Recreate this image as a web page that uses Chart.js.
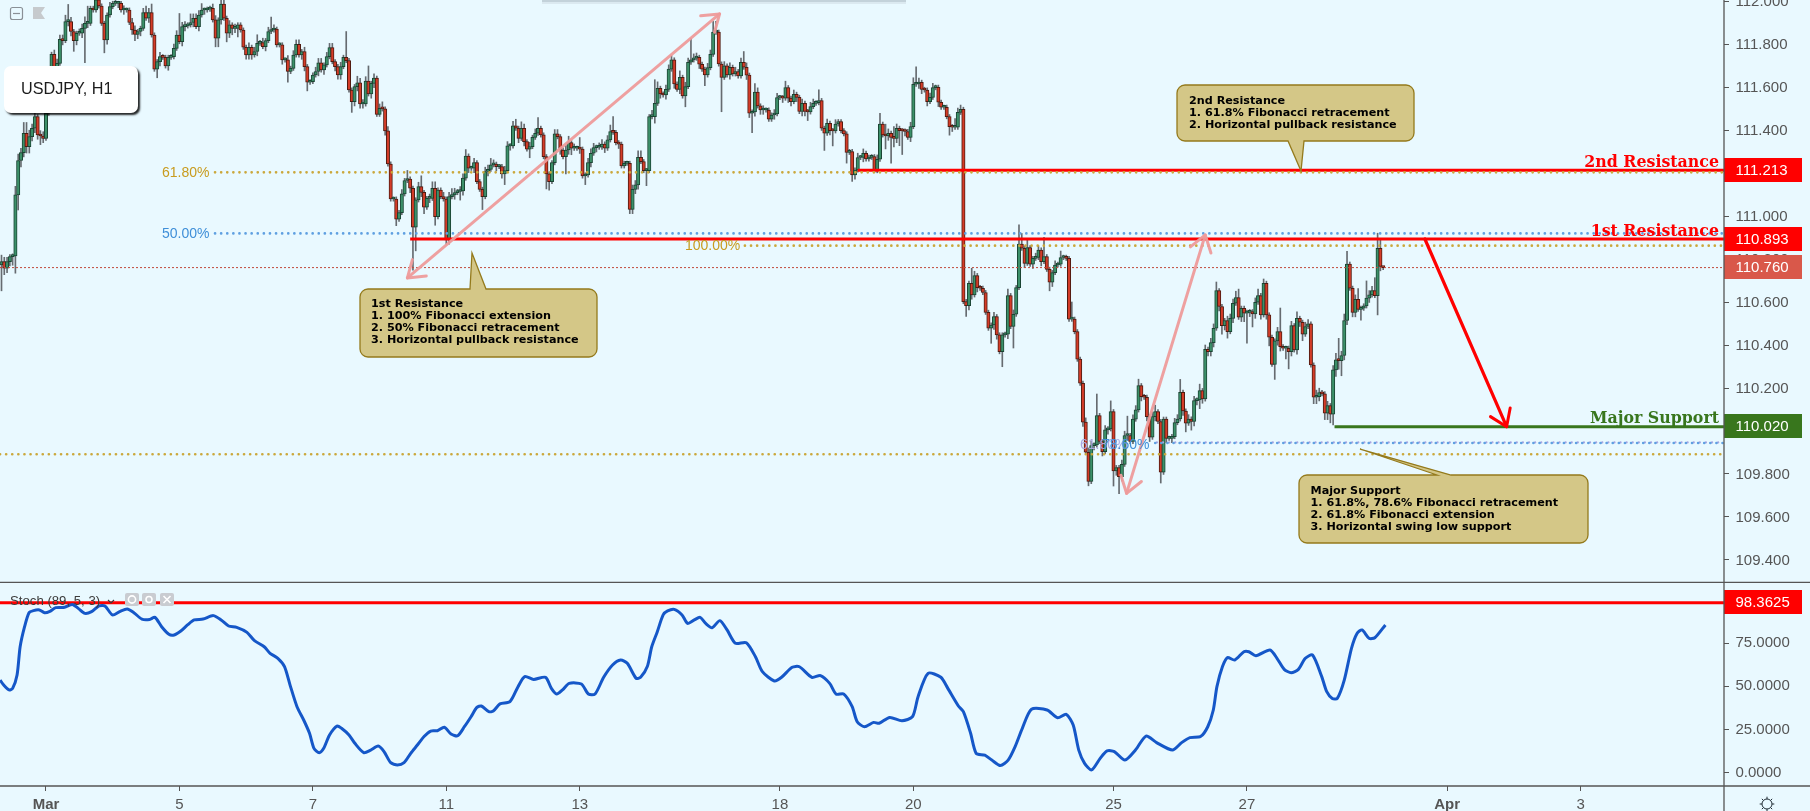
<!DOCTYPE html>
<html>
<head>
<meta charset="utf-8">
<title>USDJPY, H1</title>
<script src="https://cdn.jsdelivr.net/npm/chart.js@4"></script>
<style>
  html, body { margin: 0; padding: 0; background: #e9f9ff; overflow: hidden; }
  canvas { position: absolute; left: 0; }
  #priceChart { top: 0; }
  #stochChart { top: 583px; }
</style>
</head>
<body>
<canvas id="priceChart" width="1810" height="583"></canvas>
<canvas id="stochChart" width="1810" height="228"></canvas>
<script>
// Hourly closes. Each bar opens at the previous close.
const firstOpen = 110.772;
const closes = [
  110.788,110.757,110.788,110.811,110.814,111.098,111.258,111.295,111.385,111.323,
  111.369,111.408,111.462,111.377,111.372,111.361,111.478,111.617,111.752,111.648,
  111.710,111.822,111.816,111.904,111.904,111.858,111.816,111.850,111.850,111.873,
  111.896,111.896,111.966,111.958,112.005,111.977,111.896,111.819,111.935,111.974,
  111.989,111.989,111.989,111.958,111.958,111.958,111.900,111.865,111.845,111.858,
  111.873,111.946,111.920,111.946,111.842,111.683,111.718,111.741,111.738,111.698,
  111.738,111.741,111.780,111.842,111.811,111.881,111.884,111.889,111.900,111.920,
  111.881,111.935,111.958,111.958,111.962,111.966,111.912,111.827,111.912,111.986,
  111.920,111.850,111.889,111.873,111.873,111.889,111.865,111.785,111.749,111.785,
  111.749,111.765,111.803,111.807,111.788,111.816,111.858,111.865,111.869,111.796,
  111.796,111.726,111.726,111.672,111.687,111.749,111.799,111.749,111.765,111.695,
  111.622,111.625,111.656,111.672,111.713,111.679,111.703,111.741,111.783,111.718,
  111.695,111.656,111.695,111.738,111.723,111.586,111.532,111.602,111.620,111.521,
  111.521,111.628,111.568,111.617,111.641,111.473,111.501,111.498,111.396,111.242,
  111.079,111.079,110.985,111.016,111.103,111.165,111.172,111.129,110.948,111.075,
  111.137,111.110,111.041,111.082,111.082,111.129,110.997,111.121,111.090,111.079,
  110.889,111.090,111.098,111.109,111.114,111.117,111.176,111.279,111.222,111.222,
  111.248,111.160,111.124,111.090,111.207,111.217,111.238,111.241,111.230,111.230,
  111.196,111.211,111.326,111.326,111.420,111.408,111.361,111.408,111.346,111.311,
  111.323,111.366,111.385,111.408,111.377,111.276,111.196,111.160,111.248,111.382,
  111.369,111.307,111.276,111.307,111.341,111.315,111.315,111.315,111.311,111.186,
  111.191,111.248,111.292,111.318,111.320,111.320,111.335,111.315,111.354,111.393,
  111.389,111.341,111.334,111.233,111.245,111.245,111.031,111.124,111.145,111.273,
  111.253,111.211,111.211,111.462,111.462,111.524,111.594,111.568,111.563,111.589,
  111.683,111.726,111.614,111.589,111.645,111.558,111.602,111.715,111.726,111.734,
  111.738,111.706,111.683,111.656,111.690,111.752,111.855,111.855,111.707,111.645,
  111.698,111.656,111.692,111.661,111.672,111.651,111.715,111.692,111.655,111.478,
  111.484,111.576,111.512,111.493,111.493,111.493,111.450,111.470,111.475,111.551,
  111.551,111.548,111.597,111.548,111.532,111.566,111.552,111.486,111.524,111.486,
  111.484,111.509,111.524,111.527,111.537,111.408,111.385,111.431,111.397,111.396,
  111.428,111.439,111.397,111.382,111.296,111.300,111.191,111.214,111.272,111.272,
  111.292,111.265,111.273,111.276,111.211,111.264,111.427,111.377,111.372,111.385,
  111.366,111.361,111.408,111.397,111.396,111.393,111.366,111.416,111.613,111.614,
  111.622,111.589,111.586,111.532,111.552,111.597,111.599,111.529,111.506,111.506,
  111.462,111.416,111.413,111.413,111.482,111.496,110.602,110.583,110.687,110.633,
  110.723,110.667,110.664,110.644,110.552,110.478,110.493,110.532,110.447,110.369,
  110.447,110.450,110.630,110.486,110.543,110.667,110.869,110.850,110.780,110.853,
  110.776,110.803,110.807,110.842,110.788,110.811,110.752,110.692,110.737,110.772,
  110.776,110.807,110.808,110.803,110.520,110.520,110.462,110.334,110.222,110.041,
  109.901,109.765,109.932,109.935,110.072,109.951,109.904,110.005,110.010,110.090,
  109.814,109.830,109.788,109.845,109.979,109.979,109.951,110.055,110.098,110.211,
  110.160,110.157,110.067,109.971,110.067,110.090,110.044,109.808,110.055,109.966,
  109.966,109.974,110.039,110.056,110.180,110.093,110.036,110.056,110.044,110.141,
  110.144,110.188,110.149,110.380,110.369,110.411,110.478,110.653,110.579,110.490,
  110.514,110.462,110.524,110.594,110.620,110.529,110.571,110.548,110.552,110.555,
  110.544,110.599,110.630,110.540,110.687,110.540,110.436,110.310,110.419,110.462,
  110.392,110.385,110.385,110.369,110.490,110.377,110.524,110.506,110.450,110.486,
  110.498,110.307,110.157,110.160,110.179,110.173,110.083,110.118,110.078,110.284,
  110.331,110.327,110.351,110.514,110.776,110.664,110.551,110.613,110.566,110.571,
  110.582,110.618,110.633,110.653,110.630,110.850,110.765,110.760
];

// Wick lengths in pips above and below each body
const upperWicks = [
  3,2,2,1,1,4,3,2,5,5, 3,2,3,1,2,2,1,1,1,2, 2,2,2,3,8,2,1,1,2,2, 3,8,1,1,2,1,1,1,1,2,
  1,2,1,1,2,1,1,2,2,1, 1,2,3,2,4,1,1,2,1,1, 1,1,2,2,10,2,2,1,4,2, 2,2,3,1,1,1,2,2,1,3,
  2,1,2,1,2,1,1,1,1,2, 1,2,4,1,2,1,2,6,2,1, 1,1,1,2,1,2,2,2,1,2, 1,1,1,2,2,2,1,2,2,2,
  1,1,2,1,12,1,1,1,3,2, 2,2,7,1,2,1,2,3,1,2, 1,1,1,1,2,1,4,1,1,1, 2,5,1,1,2,3,3,1,1,2,
  1,2,3,2,1,2,2,3,1,1, 2,1,1,1,2,2,3,2,1,1, 1,2,2,1,2,3,1,3,2,1, 2,1,2,5,1,1,1,1,1,2,
  2,1,1,2,3,1,2,1,5,1, 1,2,2,2,1,2,2,1,2,3, 7,1,1,1,1,1,1,2,2,3, 3,1,1,1,3,11,3,1,1,2,
  2,2,1,1,3,1,2,2,10,2, 2,1,1,1,2,2,5,5,1,1, 2,1,2,1,2,1,2,5,2,1, 1,4,2,1,2,1,1,1,2,2,
  1,1,3,1,1,2,1,1,2,1, 1,2,2,1,5,1,1,2,1,1, 2,1,1,1,1,1,1,1,2,1, 2,1,1,1,1,2,5,1,5,2,
  1,5,2,1,1,1,1,2,3,8, 2,1,1,1,2,2,1,1,1,1, 1,1,1,4,2,2,1,1,1,7, 2,1,1,1,1,1,1,2,1,1,
  1,1,3,1,2,1,9,5,1,4, 1,1,2,2,1,9,1,1,1,2, 1,3,1,1,1,8,1,1,1,1, 2,2,2,1,10,1,1,2,1,5,
  1,1,1,2,2,9,1,2,2,3, 1,1,1,1,2,3,1,1,1,1, 1,1,2,2,6,1,1,2,1,2, 1,3,1,2,1,2,2,4,1,1,
  1,2,2,2,3,4,1,1,1,1, 1,2,3,1,2,1,1,1,1,2, 11,1,1,1,2,1,3,1,1,2, 2,1,1,3,2,1,1,2,1,2,
  3,10,2,3,6,1,1,2,5,1, 1,8,2,2,6,7,4,0
];
const lowerWicks = [
  12,3,2,2,4,8,7,3,2,3, 3,2,2,2,4,2,1,1,1,1, 1,1,2,1,2,2,5,2,1,2, 16,2,1,1,1,1,1,6,2,1,
  1,1,2,1,2,1,1,2,3,2, 2,1,1,2,1,1,4,2,1,1, 2,1,1,1,1,2,2,1,1,2, 1,2,1,2,1,1,1,4,4,2,
  1,4,2,3,2,4,1,1,2,2, 2,1,2,1,1,2,1,1,1,1, 1,2,1,5,1,1,1,1,2,2, 4,1,1,1,2,1,2,1,1,1,
  2,2,2,1,1,1,5,2,2,2, 2,1,1,2,2,1,1,1,2,1, 1,1,3,1,1,1,1,2,20,11, 1,2,3,1,2,1,4,1,1,1,
  2,2,1,2,1,4,2,1,2,1, 2,1,1,6,1,2,1,1,2,1, 2,5,1,2,1,1,2,1,2,1, 4,1,1,1,1,1,7,4,1,1,
  1,2,1,8,2,3,1,1,2,1, 4,1,2,1,2,1,1,2,1,1, 1,1,2,1,1,1,2,2,2,2, 1,1,7,1,1,3,1,2,1,2,
  1,1,2,1,2,1,5,1,1,1, 1,2,1,5,1,1,1,1,1,16, 1,1,2,1,1,1,1,1,2,2, 9,2,1,2,2,1,1,1,2,1,
  1,2,1,2,2,1,2,1,2,2, 4,1,1,1,1,1,8,1,2,7, 1,1,1,1,5,1,3,2,1,1, 2,1,1,1,1,1,1,1,6,2,
  12,4,2,7,11,2,1,2,1,1, 2,2,1,2,1,1,1,2,1,1, 1,4,2,1,1,1,1,5,2,2, 1,2,1,1,1,1,7,2,2,1,
  7,1,2,1,10,1,1,1,2,1, 1,2,1,1,2,1,1,4,2,1, 1,1,1,1,1,1,1,1,1,2, 1,2,1,2,1,1,2,1,2,1,
  7,2,8,2,1,2,1,1,1,1, 2,1,2,2,1,2,1,5,1,2, 1,2,1,1,1,2,4,1,4,2, 2,4,2,1,2,2,2,1,2,4,
  2,3,1,2,1,1,2,4,14,2, 6,2,1,2,1,2,4,1,7,2, 2,1,5,8,2,1,2,2,3,1, 1,1,3,3,2,1,3,3,4,5,
  3,4,7,2,2,1,2,2,1,5, 1,1,2,1,1,9,2,1
];

// Stochastic line: bar position and value
const stochBars = [
  -0.5,0.8,2.7,4,5.6,6.7,8.3,9.9,11.5,13.6,15.5,17.4,19.5,22.7,25.5,27.6,30,32.4,35.1,37.2,39.9,42.5,45.2,47.6,50.5,53.3,55.2,57.6,
  60.2,62.1,64.5,66.9,69.3,72.5,76.2,79,81.7,84.6,88.3,91,94.5,96.6,99.4,101.8,103.8,106.3,108.7,110.8,112.4,114.3,115.9,118,120.7,
  122.3,125,127.1,130.3,132.8,135.5,137.6,140,142.4,144.8,147.2,149.6,152,154.4,156.8,159.3,161.7,164.1,166.5,168.9,171,172.6,175.3,
  176.9,179.3,182.9,185.8,188.2,191.4,195.7,197.8,199.7,201.8,204.2,208.6,211.1,213.5,216.6,219.8,222.7,225.1,228.3,229.9,232.3,
  233.9,235.9,238,239.6,242,244.8,246.8,249.2,251.3,253.3,255.6,258.4,261,264,267.9,271.2,273.7,278,280.6,284.4,287,291.5,294.6,
  297.9,300.2,303,306,307.8,310.4,313.7,315.7,319.5,323.9,327.7,329.7,333.3,337.9,340.4,344.2,346,348.6,350.6,353.7,356.2,359.3,
  362.1,364.6,367.2,370.5,376.1,379.9,383,385.5,387.5,389.6,392.1,395.2,397.7,400.3,404.1,407.9,411.7,415.5,421.2,424.5,427.5,
  431.3,433.9,435.9,437.2,439.2,441,443.6,446.9,448.7,451.2,456.3,458.8,461.4,463.9,466.5,469,471.6,474.9,476.7,478.7,480.5,483,
  485.6,487.6,489.4,491.9,494,497.8
];
const stochValues = [
  53.6,50.7,47.9,48.8,56.5,72.9,84.5,92.6,93.8,94.2,92.6,93.4,95.5,95.7,97.4,95.1,92.2,93.2,96.5,96.5,91.3,93.2,94.7,92.6,88.9,88.7,89.9,84.5,
  80.1,79.7,82,85.5,88.4,88.9,90.9,88.4,84.9,84.1,81.2,76.4,72.9,69.1,66.2,61.4,50.7,38.2,30.5,22.8,14.1,11.6,14.1,21.8,27,
  25.7,21.8,17,11.6,13.1,15.4,12.2,5.8,4.5,5.8,11.2,16,20.9,24.1,24.3,26.3,22.4,21.4,26.6,32.4,37.8,38.6,35.3,
  35.7,39.8,41.1,49.8,55.6,54,55.2,48.8,45.5,47.9,51.7,51.3,45.5,45.5,55.2,62.3,65.2,63.3,54.6,55.2,61.4,
  72.9,81.6,91.3,93.6,94.5,91.3,86.4,88.4,89.9,86.4,83.9,88,82.6,74.9,75.2,67.1,58.5,53.1,55.2,61,61.3,55.2,56.2,
  51.7,45.5,45.5,38.2,29.5,26.6,29.1,28.6,32,30.1,32.4,44,57.5,55.2,48.8,38.6,35.3,22.8,11.2,10.1,7.3,4.1,
  7.3,15.1,25.7,36.7,36.3,31.8,33.8,27.6,13.1,5.4,1.6,8.3,12.6,12.2,7.3,13.1,21.2,17.4,13.1,17.4,20.3,
  20.9,26.6,36.3,49.8,61.4,66.6,65.2,70,70,67.7,71,66.2,59.8,57.9,59.8,66.2,68.1,55.6,46.9,43,43,53.6,
  72,80.6,82.6,77.8,78.1,85.5
];

// Axes
const priceTicks = [112, 111.8, 111.6, 111.4, 111.2, 111, 110.8, 110.6, 110.4, 110.2, 110, 109.8, 109.6, 109.4];
const stochTicks = [0, 25, 50, 75];
const dateBars = [16, 64, 112, 160, 208, 280, 328, 400, 448, 520, 568];
const dateLabels = ['Mar', '5', '7', '11', '13', '18', '20', '25', '27', 'Apr', '3'];
const boldDates = ['Mar', 'Apr'];

// Levels drawn on the chart
const resistance2 = 111.213;
const resistance1 = 110.893;
const majorSupport = 110.020;
const lastPrice = 110.760;
const stochLevel = 98.3625;
const fib618 = 111.203;
const fib500 = 110.919;
const fib1000 = 110.862;
const fibLowGold = 109.892;
const fibLowBlue = 109.944;

// Arrows, [start, end]
const swingUpBars = [146, 258.3];
const swingUpPrices = [110.712, 111.94];
const swingDownBars = [404.7, 433];
const swingDownPrices = [109.71, 110.912];
const targetBars = [512, 541.4];
const targetPrices = [110.893, 110.02];

const firstBar = -0.54;
const lastBar = 619.6;

const opens = closes.map((c, i) => i == 0 ? firstOpen : closes[i - 1]);
const red = '#ff0000';
const green = '#38761d';
const axisGrey = '#555555';
const tickFont = '"Liberation Sans", Arial, sans-serif';

function levelLine(startBar, value, color, width, dash) {
    return {
        type: 'line',
        data: [{x: startBar, y: value}, {x: lastBar, y: value}],
        borderColor: color,
        borderWidth: width,
        borderDash: dash || [],
        borderCapStyle: dash && dash[0] < 1 ? 'round' : 'butt',
        pointRadius: 0,
        order: 3
    };
}

function arrowLine(bars, prices, color, width) {
    return {
        type: 'line',
        data: bars.map((b, i) => ({x: b, y: prices[i]})),
        borderColor: color,
        borderWidth: width,
        borderCapStyle: 'round',
        pointRadius: 0,
        order: 2
    };
}

function drawArrowHead(ctx, fromX, fromY, toX, toY, color, width, size) {
    const angle = Math.atan2(toY - fromY, toX - fromX);
    ctx.save();
    ctx.strokeStyle = color;
    ctx.lineWidth = width;
    ctx.lineCap = 'round';
    ctx.lineJoin = 'round';
    ctx.beginPath();
    ctx.moveTo(toX - size * Math.cos(angle - 0.6), toY - size * Math.sin(angle - 0.6));
    ctx.lineTo(toX, toY);
    ctx.lineTo(toX - size * Math.cos(angle + 0.6), toY - size * Math.sin(angle + 0.6));
    ctx.stroke();
    ctx.restore();
}

function roundedPath(ctx, x, y, w, h, r) {
    ctx.beginPath();
    ctx.roundRect(x, y, w, h, r);
}

// Speech bubble with the pointer at tipX/tipY, baseA and baseB on the side it leaves
function drawCallout(ctx, box, lines) {
    ctx.save();
    ctx.fillStyle = '#d4c787';
    ctx.strokeStyle = '#947a1c';
    ctx.lineWidth = 1.3;
    const {x, y, w, h, tipX, tipY, baseA, baseB, side} = box;
    const edge = side == 'top' ? y : y + h;
    const r = 8;
    ctx.beginPath();
    ctx.moveTo(x + r, y);
    if (side == 'top') {
        ctx.lineTo(baseA, y);
        ctx.lineTo(tipX, tipY);
        ctx.lineTo(baseB, y);
    }
    ctx.arcTo(x + w, y, x + w, y + h, r);
    ctx.arcTo(x + w, y + h, x, y + h, r);
    if (side == 'bottom') {
        ctx.lineTo(baseB, edge);
        ctx.lineTo(tipX, tipY);
        ctx.lineTo(baseA, edge);
    }
    ctx.arcTo(x, y + h, x, y, r);
    ctx.arcTo(x, y, x + w, y, r);
    ctx.closePath();
    ctx.fill();
    ctx.stroke();
    ctx.fillStyle = '#000000';
    ctx.font = 'bold 11.2px "DejaVu Sans", Verdana, sans-serif';
    ctx.textBaseline = 'middle';
    ctx.textAlign = 'left';
    lines.forEach((line, i) => {
        ctx.fillText(line, box.textX, box.textY + i * 12);
    });
    ctx.restore();
}

function drawPriceTag(ctx, top, bottom, text, color) {
    ctx.save();
    ctx.fillStyle = color;
    ctx.fillRect(1724, top, 78, bottom - top);
    ctx.fillStyle = '#ffffff';
    ctx.font = '15px ' + tickFont;
    ctx.textBaseline = 'middle';
    ctx.textAlign = 'left';
    ctx.fillText(text, 1735.5, (top + bottom) / 2 + 0.5);
    ctx.restore();
}

function drawLevelName(ctx, text, baseline, color) {
    ctx.save();
    ctx.fillStyle = color;
    ctx.font = 'bold 15.8px "DejaVu Serif", serif';
    ctx.textAlign = 'right';
    ctx.textBaseline = 'alphabetic';
    ctx.fillText(text, 1719, baseline);
    ctx.restore();
}

function drawFibLabel(ctx, text, x, y, color) {
    ctx.save();
    ctx.fillStyle = color;
    ctx.font = '14px ' + tickFont;
    ctx.textBaseline = 'middle';
    ctx.textAlign = 'left';
    ctx.fillText(text, x, y);
    ctx.restore();
}

const priceOverlay = {
    id: 'priceOverlay',
    afterDraw(chart) {
        const ctx = chart.ctx;
        const xs = chart.scales.x;
        const ys = chart.scales.y;
        const px = (b) => xs.getPixelForValue(b);
        const py = (p) => ys.getPixelForValue(p);

        // Arrow heads
        const pink = 'rgba(238,155,155,0.95)';
        drawArrowHead(ctx, px(swingUpBars[0]), py(swingUpPrices[0]), px(swingUpBars[1]), py(swingUpPrices[1]), pink, 3, 19);
        drawArrowHead(ctx, px(swingUpBars[1]), py(swingUpPrices[1]), px(swingUpBars[0]), py(swingUpPrices[0]), pink, 3, 19);
        drawArrowHead(ctx, px(swingDownBars[0]), py(swingDownPrices[0]), px(swingDownBars[1]), py(swingDownPrices[1]), pink, 3, 19);
        drawArrowHead(ctx, px(swingDownBars[1]), py(swingDownPrices[1]), px(swingDownBars[0]), py(swingDownPrices[0]), pink, 3, 19);
        drawArrowHead(ctx, px(targetBars[0]), py(targetPrices[0]), px(targetBars[1]), py(targetPrices[1]), red, 3, 19);

        // Fibonacci labels
        drawFibLabel(ctx, '61.80%', 162, 173, '#c89b1e');
        drawFibLabel(ctx, '50.00%', 162, 234, '#3f8fd8');
        drawFibLabel(ctx, '100.00%', 685, 246.5, '#c89b1e');
        drawFibLabel(ctx, '61.80%', 1080, 445, '#a9a6e0');
        drawFibLabel(ctx, '78.60%', 1102, 445, '#3f8fd8');

        // Level names and price tags
        drawLevelName(ctx, '2nd Resistance', 167, red);
        drawLevelName(ctx, '1st Resistance', 236, red);
        drawLevelName(ctx, 'Major Support', 423, green);
        drawPriceTag(ctx, 158, 182, resistance2.toFixed(3), red);
        drawPriceTag(ctx, 255, 279, lastPrice.toFixed(3), '#d9584a');
        drawPriceTag(ctx, 227, 251, resistance1.toFixed(3), red);
        drawPriceTag(ctx, 414, 438, majorSupport.toFixed(3), green);

        // Callouts
        drawCallout(ctx, {x: 360, y: 289, w: 237, h: 68, tipX: 472, tipY: 253, baseA: 470, baseB: 486, side: 'top', textX: 371, textY: 304.5},
            ['1st Resistance', '1. 100% Fibonacci extension', '2. 50% Fibonacci retracement', '3. Horizontal pullback resistance']);
        drawCallout(ctx, {x: 1177, y: 85, w: 237, h: 56, tipX: 1301, tipY: 171, baseA: 1288, baseB: 1304, side: 'bottom', textX: 1189, textY: 101},
            ['2nd Resistance', '1. 61.8% Fibonacci retracement', '2. Horizontal pullback resistance']);
        drawCallout(ctx, {x: 1299, y: 475, w: 289, h: 68, tipX: 1360, tipY: 449, baseA: 1437, baseB: 1451, side: 'top', textX: 1310.5, textY: 491},
            ['Major Support', '1. 61.8%, 78.6% Fibonacci retracement', '2. 61.8% Fibonacci extension', '3. Horizontal swing low support']);

        // Bottom edge of a callout that is cut off by the top of the picture
        ctx.fillStyle = '#c3d2da';
        ctx.fillRect(542, 0, 364, 2);
        ctx.fillStyle = '#dbe9f0';
        ctx.fillRect(542, 2, 364, 2);

        // Symbol label
        ctx.save();
        ctx.shadowColor = 'rgba(0,0,0,0.85)';
        ctx.shadowBlur = 2;
        ctx.shadowOffsetX = 2;
        ctx.shadowOffsetY = 2;
        ctx.fillStyle = '#ffffff';
        roundedPath(ctx, 4, 66, 134, 47, 7);
        ctx.fill();
        ctx.restore();
        ctx.fillStyle = '#1c1c1c';
        ctx.font = '16.2px ' + tickFont;
        ctx.textBaseline = 'middle';
        ctx.textAlign = 'left';
        ctx.fillText('USDJPY, H1', 21, 89.5);

        // Collapse and flag icons, top left
        ctx.strokeStyle = '#8a9096';
        ctx.lineWidth = 1.2;
        roundedPath(ctx, 10.5, 7.5, 12, 12, 2);
        ctx.stroke();
        ctx.beginPath();
        ctx.moveTo(13, 13.5);
        ctx.lineTo(20, 13.5);
        ctx.stroke();
        ctx.fillStyle = '#c6cacd';
        ctx.beginPath();
        ctx.moveTo(33, 7);
        ctx.lineTo(45, 7);
        ctx.lineTo(41, 13);
        ctx.lineTo(45, 19);
        ctx.lineTo(33, 19);
        ctx.closePath();
        ctx.fill();

        // Pane frame
        ctx.strokeStyle = axisGrey;
        ctx.lineWidth = 1.3;
        ctx.beginPath();
        ctx.moveTo(1724, 0);
        ctx.lineTo(1724, 583);
        ctx.moveTo(0, 582.5);
        ctx.lineTo(1810, 582.5);
        ctx.stroke();
    }
};

const stochOverlay = {
    id: 'stochOverlay',
    afterDraw(chart) {
        const ctx = chart.ctx;
        drawPriceTag(ctx, 7, 31, stochLevel.toFixed(4), red);

        // Indicator title
        ctx.fillStyle = '#3c3c3c';
        ctx.font = '13.2px ' + tickFont;
        ctx.textBaseline = 'middle';
        ctx.textAlign = 'left';
        ctx.fillText('Stoch (89, 5, 3)', 10, 18.5);
        ctx.strokeStyle = '#3c3c3c';
        ctx.lineWidth = 1.2;
        ctx.beginPath();
        ctx.moveTo(108, 17);
        ctx.lineTo(111, 20);
        ctx.lineTo(114, 17);
        ctx.stroke();

        // Indicator buttons
        [125, 142, 160].forEach((x, i) => {
            ctx.fillStyle = '#c9ccd1';
            roundedPath(ctx, x, 10, 14, 13, 2);
            ctx.fill();
            ctx.strokeStyle = '#ffffff';
            ctx.lineWidth = 1.6;
            ctx.beginPath();
            if (i == 2) {
                ctx.moveTo(x + 3.5, 13);
                ctx.lineTo(x + 10.5, 20);
                ctx.moveTo(x + 10.5, 13);
                ctx.lineTo(x + 3.5, 20);
            } else {
                ctx.arc(x + 7, 16.5, i == 0 ? 3.6 : 3, 0, Math.PI * 2);
            }
            ctx.stroke();
        });

        // Settings icon under the price axis
        const gearX = 1767, gearY = 221;
        ctx.strokeStyle = '#1f2a33';
        ctx.lineWidth = 1;
        ctx.beginPath();
        ctx.arc(gearX, gearY, 5, 0, Math.PI * 2);
        for (let a = 0; a < 8; a++) {
            const t = a * Math.PI / 4;
            ctx.moveTo(gearX + 5 * Math.cos(t), gearY + 5 * Math.sin(t));
            ctx.lineTo(gearX + 7.3 * Math.cos(t), gearY + 7.3 * Math.sin(t));
        }
        ctx.stroke();

        // Pane frame
        ctx.strokeStyle = axisGrey;
        ctx.lineWidth = 1.3;
        ctx.beginPath();
        ctx.moveTo(1724, 0);
        ctx.lineTo(1724, 228);
        ctx.moveTo(0, 203);
        ctx.lineTo(1810, 203);
        ctx.stroke();
    }
};

function fitValueAxis(scale) {
    scale.width = 86;
    scale.paddingTop = 0;
    scale.paddingBottom = 0;
}

const dotGold = 'rgb(203,168,60)';
const dotBlue = 'rgb(95,160,225)';

const priceChart = new Chart(document.getElementById('priceChart').getContext('2d'), {
    type: 'bar',
    data: {
        datasets: [
            {
                data: closes.map((c, i) => ({
                    x: i,
                    y: [Math.min(opens[i], c) - lowerWicks[i] / 100, Math.max(opens[i], c) + upperWicks[i] / 100]
                })),
                backgroundColor: '#666b70',
                barThickness: 1,
                order: 6
            },
            {
                data: closes.map((c, i) => ({x: i, y: [opens[i], c]})),
                backgroundColor: closes.map((c, i) => c >= opens[i] ? '#3c9069' : '#d43c28'),
                borderColor: closes.map((c, i) => c >= opens[i] ? '#1a4533' : '#4f1a10'),
                borderWidth: 1,
                borderSkipped: false,
                barThickness: 3.4,
                minBarLength: 2,
                order: 5
            },
            levelLine(firstBar, fibLowGold, dotGold, 2.6, [0.1, 6]),
            levelLine(415, fibLowBlue, dotBlue, 2.6, [0.1, 6]),
            levelLine(415.6, fibLowBlue + 0.003, 'rgb(170,165,225)', 2.2, [0.1, 6]),
            levelLine(76.8, fib618, dotGold, 2.6, [0.1, 6]),
            levelLine(76.8, fib500, dotBlue, 2.6, [0.1, 6]),
            levelLine(267.4, fib1000, dotGold, 2.6, [0.1, 6]),
            levelLine(firstBar, lastPrice, '#c0483a', 1, [2, 2]),
            levelLine(308, resistance2, red, 3),
            levelLine(147, resistance1, red, 3),
            levelLine(479.5, majorSupport, green, 3),
            arrowLine(swingUpBars, swingUpPrices, 'rgba(238,155,155,0.95)', 3),
            arrowLine(swingDownBars, swingDownPrices, 'rgba(238,155,155,0.95)', 3),
            arrowLine(targetBars, targetPrices, red, 3.2)
        ]
    },
    options: {
        responsive: false,
        animation: false,
        events: [],
        layout: {padding: 0},
        datasets: {bar: {grouped: false}},
        plugins: {legend: {display: false}, tooltip: {enabled: false}},
        scales: {
            x: {
                type: 'linear',
                offset: false,
                min: firstBar,
                max: lastBar,
                display: false,
                grid: {display: false}
            },
            y: {
                position: 'right',
                min: 109.293,
                max: 112.0047,
                afterFit: fitValueAxis,
                afterBuildTicks(scale) {
                    scale.ticks = priceTicks.map((v) => ({value: v}));
                },
                border: {display: false},
                grid: {drawOnChartArea: false, color: axisGrey, tickLength: 5},
                ticks: {
                    autoSkip: false,
                    padding: 6.5,
                    labelOffset: 1,
                    color: axisGrey,
                    font: {family: tickFont, size: 15},
                    callback: (v) => v.toFixed(3)
                }
            }
        }
    },
    plugins: [priceOverlay]
});

const stochChart = new Chart(document.getElementById('stochChart').getContext('2d'), {
    type: 'line',
    data: {
        datasets: [
            {
                data: stochBars.map((b, i) => ({x: b, y: stochValues[i]})),
                borderColor: '#1557c8',
                borderWidth: 3,
                tension: 0.25,
                pointRadius: 0,
                order: 2
            },
            levelLine(firstBar, stochLevel, red, 3)
        ]
    },
    options: {
        responsive: false,
        animation: false,
        events: [],
        layout: {padding: 0},
        plugins: {legend: {display: false}, tooltip: {enabled: false}},
        scales: {
            x: {
                type: 'linear',
                min: firstBar,
                max: lastBar,
                afterBuildTicks(scale) {
                    scale.ticks = dateBars.map((b) => ({value: b}));
                },
                afterFit(scale) {
                    scale.height = 25;
                    scale.paddingLeft = 0;
                    scale.paddingRight = 0;
                },
                border: {display: false},
                grid: {drawOnChartArea: false, color: axisGrey, tickLength: 5},
                ticks: {
                    autoSkip: false,
                    maxRotation: 0,
                    padding: 5,
                    color: axisGrey,
                    font: (ctx) => ({
                        family: tickFont,
                        size: 15,
                        weight: ctx.tick && boldDates.includes(ctx.tick.label) ? 'bold' : 'normal'
                    }),
                    callback: (v) => dateLabels[dateBars.indexOf(v)]
                }
            },
            y: {
                position: 'right',
                min: -7.7,
                max: 109.78,
                afterFit: fitValueAxis,
                afterBuildTicks(scale) {
                    scale.ticks = stochTicks.map((v) => ({value: v}));
                },
                border: {display: false},
                grid: {drawOnChartArea: false, color: axisGrey, tickLength: 5},
                ticks: {
                    autoSkip: false,
                    padding: 6.5,
                    color: axisGrey,
                    font: {family: tickFont, size: 15},
                    callback: (v) => v.toFixed(4)
                }
            }
        }
    },
    plugins: [stochOverlay]
});
</script>
</body>
</html>
